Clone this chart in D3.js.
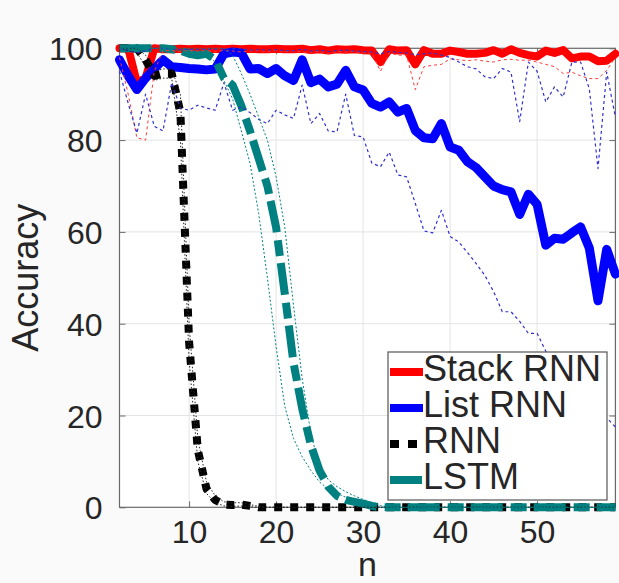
<!DOCTYPE html>
<html>
<head>
<meta charset="utf-8">
<script src="https://cdn.jsdelivr.net/npm/d3@7"></script>
<style>
  html, body { margin: 0; padding: 0; background: #fafafa; }
  svg { display: block; }
  text { font-family: "Liberation Sans", Arial, Helvetica, sans-serif; fill: #262626; }
</style>
</head>
<body>
<svg id="chart" width="619" height="583"></svg>
<script>
// ---------------- data ----------------
const nValues = [2,3,4,5,6,7,8,9,10,11,12,13,14,15,16,17,18,19,20,21,22,23,24,25,26,27,28,29,30,
  31,32,33,34,35,36,37,38,39,40,41,42,43,44,45,46,47,48,49,50,51,52,53,54,55,56,57,58,59];

const xTicks = [10, 20, 30, 40, 50];
const yTicks = [0, 20, 40, 60, 80, 100];
const seriesNames = ["Stack RNN", "List RNN", "RNN", "LSTM"];

const stackRNN = [100,100,92.5,93.5,100,99.8,99.8,99.9,99.8,99.9,99.8,99.9,99.8,99.9,99.8,99.9,99.8,99.8,99.9,99.8,
  99.8,99.9,99.6,99.8,99.5,99.8,99.7,99.8,99.6,99.5,97,99.8,99.5,99.6,96.5,99.6,98.8,98.8,99.5,99.2,
  98.8,98.8,99,99.6,98.8,99.8,99,98.5,98.2,99.5,99,99.6,97.8,98.2,98.2,97.2,97.3,98.8];
const stackMin = [98,90,80.5,80,95,99.5,99.5,99.3,99.5,99.4,99.5,99.3,99.5,99.4,99.2,99.4,99.5,99.3,99.5,99.3,
  99.4,99.2,99,99.4,98.8,99.3,99.2,99.3,99,99,95,99,98.5,98.5,91,96,96.3,96.5,97.7,97.5,
  97.3,97.5,97.2,97,97.5,97.6,97.4,97.4,97,96.5,96,94.5,94.8,94,93.4,93.4,95.2,98];

const listRNN = [97.5,94,91,93.5,95.5,97.5,96,95.8,95.6,95.5,95.3,95.5,98.8,99.2,99,95.5,95.6,94.5,95.6,94,
  93,97.5,92.5,93.3,91.6,92.2,95.2,91.6,90.9,88,87.2,88.3,86.1,86.9,82.1,80.5,80.3,83.6,78.5,77.8,
  75.3,74,72,70,69.2,68.7,63.8,68.2,66,57.1,58.6,58.4,59.8,61.1,56.5,45,56.2,50.8];
const listMin = [95,88,81.5,90,83,82,92.5,87,86.5,87.6,87,86.5,92.5,86.5,87.2,86,84.5,83.6,86.5,85.5,
  84.7,92,83.6,85.8,82,81.8,90,81,80.7,75,74.2,77.4,72.4,72,66.2,60.2,59.8,64.7,59,57.8,
  55.5,53.1,50.5,47,42.6,42.6,40.5,37.9,37.9,34,32,29.5,28,25.5,23.5,21,19.5,17.5];
const listMax = [100,99.5,99,99.5,100,100,99.8,99.7,99.8,99.7,99.8,99.8,99.9,99.9,99.9,99.6,99.7,99.6,99.7,99.5,
  99.5,99.8,99.4,99.6,99.3,99.5,99.6,99.4,99.3,99.2,98.8,99.3,99.1,99,98.6,98.8,99,98.5,98,97,
  96,95.5,93.8,93.4,95.6,94.8,84,97,95,88.3,91.6,89.4,97,97,91.2,73.8,94.8,85];

const rnn = [100,100,100,97.5,94,94.5,94.5,86,36,12.5,4,1.6,0.6,0.5,0.6,0.3,0,0,0,0,
  0,0,0,0,0,0,0,0,0,0,0,0,0,0,0,0,0,0,0,0,
  0,0,0,0,0,0,0,0,0,0,0,0,0,0,0,0,0,0];
const rnnMin = [100,99.5,99,96,93,93.5,93.5,80,32,10,3,1,0.3,0.2,0.3,0.1,0,0,0,0,
  0,0,0,0,0,0,0,0,0,0,0,0,0,0,0,0,0,0,0,0,
  0,0,0,0,0,0,0,0,0,0,0,0,0,0,0,0,0,0];
const rnnMax = [100,100,100,98.5,95,95.5,95.5,90,40,15,5.5,2.5,1.2,1,1,0.6,0.2,0,0,0,
  0,0,0,0,0,0,0,0,0,0,0,0,0,0,0,0,0,0,0,0,
  0,0,0,0,0,0,0,0,0,0,0,0,0,0,0,0,0,0];

const lstm = [100,100,100,100,100,100,99.8,99.5,98.8,98.5,98.8,97.5,93.5,92,87.5,82,76,70,61,46.5,
  31.5,21.5,13.5,8,4.5,2.5,1.6,1.2,0.8,0.3,0,0,0,0,0,0,0,0,0,0,
  0,0,0,0,0,0,0,0,0,0,0,0,0,0,0,0,0,0];
const lstmMin = [100,100,100,100,100,100,99.8,99.5,99,98.8,98.5,97,93,89,82,75,64,50,35,22,
  15,11,8,5.5,4,3,2.2,1.5,1,0.5,0,0,0,0,0,0,0,0,0,0,
  0,0,0,0,0,0,0,0,0,0,0,0,0,0,0,0,0,0];
const lstmMax = [100,100,100,100,100,100,100,100,100,100,100,100,100,98.5,94.5,90,85,80,72,61,
  44,28,16,8.8,6,4.5,3.4,2.5,1.7,1,0.4,0,0,0,0,0,0,0,0,0,
  0,0,0,0,0,0,0,0,0,0,0,0,0,0,0,0,0,0];

// ---------------- layout ----------------
const svg = d3.select("#chart");
const L = 119.5, R = 615.4, T = 48.3, B = 507.3;
const x = d3.scaleLinear().domain([2, 59]).range([L, R]);
const y = d3.scaleLinear().domain([0, 100]).range([B, T]);

// plot background
svg.append("rect").attr("x", L).attr("y", T).attr("width", R - L).attr("height", B - T).attr("fill", "#ffffff");

// grid
const grid = svg.append("g");
grid.selectAll("line.gx").data(xTicks).join("line")
  .attr("x1", d => x(d)).attr("x2", d => x(d)).attr("y1", T).attr("y2", B)
  .attr("stroke", "#e4e4e4").attr("stroke-width", 1);
grid.selectAll("line.gy").data(yTicks.filter(d => d > 0 && d < 100)).join("line")
  .attr("x1", L).attr("x2", R).attr("y1", d => y(d)).attr("y2", d => y(d))
  .attr("stroke", "#e4e4e4").attr("stroke-width", 1);

// axes
const fontTick = 32;
const xAxis = svg.append("g").attr("transform", `translate(0,${B})`)
  .call(d3.axisBottom(x).tickValues(xTicks).tickSizeInner(-6).tickSizeOuter(0).tickPadding(13));
const yAxis = svg.append("g").attr("transform", `translate(${L},0)`)
  .call(d3.axisLeft(y).tickValues(yTicks).tickSizeInner(-6).tickSizeOuter(0).tickPadding(17));
const yAxisR = svg.append("g").attr("transform", `translate(${R},0)`)
  .call(d3.axisRight(y).tickValues(yTicks).tickSizeInner(-6).tickSizeOuter(0).tickFormat(""));
const xAxisT = svg.append("g").attr("transform", `translate(0,${T})`)
  .call(d3.axisTop(x).tickValues(xTicks).tickSizeInner(-6).tickSizeOuter(0).tickFormat(""));
[xAxis, yAxis, yAxisR, xAxisT].forEach(g => {
  g.select(".domain").remove();
  g.selectAll(".tick line").attr("stroke", "#6a6a6a");
  g.selectAll(".tick text").attr("font-size", fontTick).attr("fill", "#262626")
    .style("font-family", '"Liberation Sans", Arial, sans-serif');
});
yAxis.selectAll(".tick text").attr("dy", "0.36em");

// box
svg.append("rect").attr("x", L).attr("y", T).attr("width", R - L).attr("height", B - T)
  .attr("fill", "none").attr("stroke", "#6a6a6a").attr("stroke-width", 1.2);

// axis labels
svg.append("text").attr("x", (L + R) / 2).attr("y", 576).attr("text-anchor", "middle")
  .attr("font-size", 34).text("n");
svg.append("text").attr("transform", `translate(38,${(T + B) / 2}) rotate(-90)`)
  .attr("text-anchor", "middle").attr("font-size", 36).text("Accuracy");

// ---------------- lines ----------------
const line = d3.line().x((d, i) => x(nValues[i])).y(d => y(d));
const plot = svg.append("g");
function draw(vals, color, width, dash, cap) {
  plot.append("path").datum(vals).attr("d", line)
    .attr("fill", "none").attr("stroke", color).attr("stroke-width", width)
    .attr("stroke-linejoin", "round").attr("stroke-linecap", cap || "butt")
    .attr("stroke-dasharray", dash || null);
}
const RED = "#ff0000", BLUE = "#0000ff", BLACK = "#000000", TEAL = "#008080";

draw(stackRNN, RED, 8, null, "round");
draw(listRNN, BLUE, 9, null, "round");
draw(rnn, BLACK, 8, "8,8");
draw(lstm, TEAL, 8, "32,8,16,7");

draw(stackMin, "#ff3a3a", 1, "3,3");
draw(listMin, "#3030d0", 1.2, "3,3");
draw(listMax, "#3030d0", 1.2, "3,3");
draw(rnnMin, "#222", 1, "1.5,2");
draw(rnnMax, "#222", 1, "1.5,2");
draw(lstmMin, TEAL, 1, "2,2");
draw(lstmMax, TEAL, 1, "2,2");

// ---------------- legend ----------------
const lg = svg.append("g");
lg.append("rect").attr("x", 388).attr("y", 352).attr("width", 219).attr("height", 148)
  .attr("fill", "#ffffff").attr("stroke", "#555").attr("stroke-width", 1.2);
const legendStyles = [
  { color: RED, dash: null },
  { color: BLUE, dash: null },
  { color: BLACK, dash: "9,9" },
  { color: TEAL, dash: "32,8,16,7" }
];
seriesNames.forEach((name, i) => {
  const cy = 372 + i * 36;
  lg.append("line").attr("x1", 390).attr("x2", 423).attr("y1", cy).attr("y2", cy)
    .attr("stroke", legendStyles[i].color).attr("stroke-width", 8)
    .attr("stroke-dasharray", legendStyles[i].dash);
  lg.append("text").attr("x", 423).attr("y", cy + 9).attr("font-size", 36)
    .attr("fill", "#000").text(name);
});
</script>
</body>
</html>
